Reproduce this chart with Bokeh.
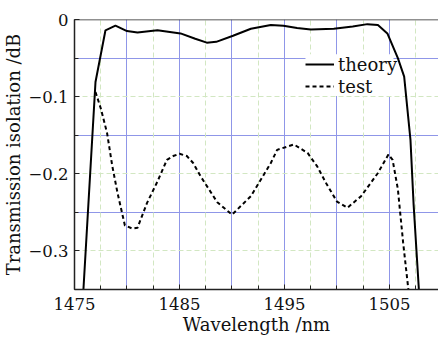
from bokeh.plotting import figure
from bokeh.models import (FixedTicker, Grid, Legend, LegendItem, Span, BoxAnnotation, Range1d)
from bokeh.embed import file_html
from bokeh.resources import INLINE

# ---- data ----
theory_x = [1475.85, 1477.0, 1477.95, 1478.9, 1480.0, 1481.0, 1482.9, 1485.1, 1486.5, 1487.6,
            1488.5, 1490.1, 1491.8, 1493.7, 1494.9, 1496.2, 1497.5, 1499.7, 1501.5, 1502.9,
            1503.9, 1504.8, 1505.8, 1506.4, 1507.0, 1507.3, 1507.8]
theory_y = [-0.35, -0.081, -0.014, -0.008, -0.015, -0.017, -0.014, -0.018, -0.025, -0.030,
            -0.029, -0.021, -0.012, -0.007, -0.008, -0.011, -0.013, -0.012, -0.009, -0.006,
            -0.007, -0.018, -0.050, -0.074, -0.156, -0.240, -0.35]

test_x = [1477.0, 1477.5, 1478.1, 1478.6, 1479.1, 1479.8, 1480.5, 1481.0, 1481.9, 1482.9,
          1483.8, 1484.4, 1485.0, 1485.7, 1486.3, 1487.0, 1488.6, 1490.0, 1491.8, 1493.7,
          1494.3, 1495.9, 1497.2, 1498.1, 1499.0, 1500.0, 1501.0, 1502.3, 1503.9, 1504.9,
          1505.3, 1505.8, 1506.3, 1506.8]
test_y = [-0.094, -0.115, -0.147, -0.190, -0.225, -0.267, -0.271, -0.270, -0.238, -0.210,
          -0.182, -0.177, -0.174, -0.177, -0.186, -0.203, -0.237, -0.253, -0.229, -0.186,
          -0.169, -0.162, -0.173, -0.190, -0.213, -0.236, -0.244, -0.229, -0.199, -0.175,
          -0.182, -0.220, -0.289, -0.35]

x_major = [1475, 1485, 1495, 1505]
x_minor = [1475 + 2.5 * i for i in range(14)]
y_major = [0, -0.1, -0.2, -0.3]
y_labels = {0: "0", -0.1: "\u22120.1", -0.2: "\u22120.2", -0.3: "\u22120.3"}
y_minor = [0, -0.05, -0.1, -0.15, -0.2, -0.25, -0.3, -0.35]
x_blue = [1480, 1485, 1490, 1495, 1500, 1505]
x_green = [1477.5, 1482.5, 1487.5, 1492.5, 1497.5, 1502.5, 1507.5]
y_blue = [-0.05, -0.15, -0.25]
y_green = [-0.1, -0.2, -0.3]

FONT = "DejaVu Serif"

p = figure(width=438, height=337, output_backend="svg", toolbar_location=None,
           x_range=Range1d(1475, 1509.67), y_range=Range1d(-0.35, 0),
           min_border_left=74, min_border_right=0, min_border_top=19, min_border_bottom=46)
p.outline_line_color = None
p.background_fill_color = "white"

# grids
p.xgrid.visible = False
p.ygrid.visible = False
blue = "#8f96e8"
green = "#d2e7c2"
for dim, ticks, col, dash in [(0, x_blue, blue, "solid"), (1, y_blue, blue, "solid"),
                              (0, x_green, green, "5 3"), (1, y_green, green, "5 3")]:
    g = Grid(dimension=dim, ticker=FixedTicker(ticks=ticks), grid_line_color=col,
             grid_line_width=1, grid_line_dash=dash, level="image")
    p.add_layout(g)

# legend background box (covers grid, under curves)
def px2x(px):
    return 1475 + (px - 74) / 10.5
def px2y(py):
    return -(py - 19) / 777.0
p.add_layout(BoxAnnotation(left=px2x(305), right=px2x(393), top=px2y(54), bottom=px2y(96),
                           fill_color="white", fill_alpha=1, line_color=None, level="underlay"))

r1 = p.line(theory_x, theory_y, line_color="black", line_width=2)
r2 = p.line(test_x, test_y, line_color="black", line_width=2, line_dash="4 3")

p.add_layout(Span(location=0, dimension="width", line_color="#222222", line_width=1.5))

# axes
for ax in (p.xaxis[0], p.yaxis[0]):
    ax.axis_line_color = "#222222"
    ax.axis_line_width = 1.5
    ax.major_tick_in = 5
    ax.major_tick_out = 0
    ax.minor_tick_in = 4
    ax.minor_tick_out = 0
    ax.major_tick_line_color = "#222222"
    ax.minor_tick_line_color = "#222222"
    ax.major_label_text_font = FONT
    ax.major_label_text_font_size = "16.5px"
    ax.major_label_text_color = "#111111"
    ax.axis_label_text_font = FONT
    ax.axis_label_text_font_size = "18px"
    ax.axis_label_text_font_style = "normal"
    ax.axis_label_text_color = "#111111"

p.xaxis.ticker = FixedTicker(ticks=x_major, minor_ticks=x_minor)
p.yaxis.ticker = FixedTicker(ticks=y_major, minor_ticks=y_minor)
p.yaxis.major_label_overrides = y_labels
p.xaxis.axis_label = "Wavelength /nm"
p.yaxis.axis_label = "Transmission isolation /dB"
p.xaxis.major_label_standoff = 8
p.xaxis.axis_label_standoff = 1
p.yaxis.major_label_standoff = 6
p.yaxis.axis_label_standoff = 1

legend = Legend(items=[LegendItem(label="theory", renderers=[r1]),
                       LegendItem(label="test", renderers=[r2])],
                location=(231, 192), padding=0, margin=0, spacing=0,
                glyph_width=29, glyph_height=22, label_height=22, label_standoff=4,
                border_line_color=None, background_fill_alpha=0,
                label_text_font=FONT, label_text_font_size="18px", label_text_color="#111111")
p.add_layout(legend)

open("out.html", "w").write(file_html(p, INLINE))
